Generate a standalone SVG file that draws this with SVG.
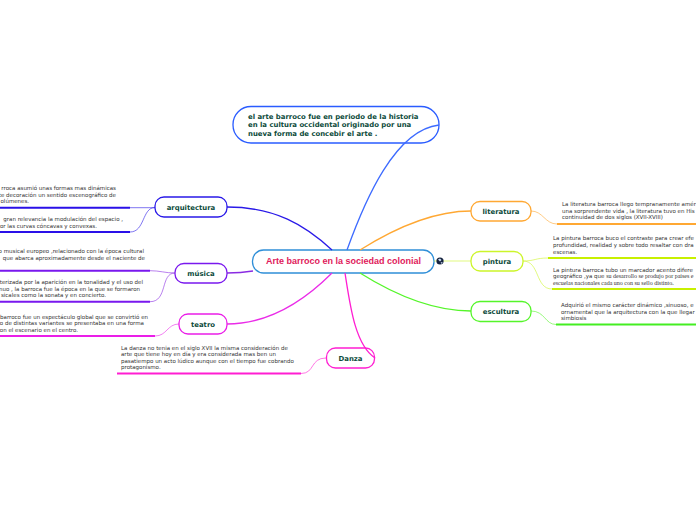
<svg xmlns="http://www.w3.org/2000/svg" width="696" height="520" viewBox="0 0 696 520">
<style>
.n{fill:#fff;stroke-width:1.3}
.c{fill:none;stroke-width:1.3}
.t{fill:none;stroke-width:.8;opacity:.75}
.u{fill:none;stroke-width:2}
.l{font:bold 6.9px "DejaVu Sans",sans-serif;fill:#0b4a3a;text-anchor:middle}
.d{font:5.5px "DejaVu Sans",sans-serif;fill:#333}
.e{text-anchor:end}
.m{font:bold 6.9px "DejaVu Sans",sans-serif;fill:#0b4a3a}
.s{font-family:"Liberation Serif",serif;font-size:6px}
</style>
<rect width="696" height="520" fill="#fff"/>
<g id="n-central"><rect class="n" x="252.500" y="250" width="181.500" height="23" rx="11" stroke="#2f8fd8"/><text x="343.500" y="264" text-anchor="middle" style="font:bold 9px 'Liberation Sans',sans-serif;fill:#e0195b">Arte barroco en la sociedad colonial</text></g>
<g id="n-top"><rect class="n" x="233" y="106.500" width="206" height="36.500" rx="18" stroke="#2a5cff"/><text class="m" x="248" y="119">el arte barroco fue en periodo de la historia</text><text class="m" x="248" y="127">en la cultura occidental originado por una</text><text class="m" x="248" y="136">nueva forma de concebir el arte .</text></g>
<g id="n-arquitectura"><rect class="n" x="155" y="197" width="72" height="20" rx="9" stroke="#2a1ae8"/><text class="l" x="191" y="210">arquitectura</text></g>
<g id="t-arq1"><text class="d e" x="116" y="190">rroca asumió unas formas mas dinámicas</text><text class="d e" x="116" y="197">te decoración un sentido escenográfico de</text><text class="d" x="0.500" y="203">olúmenes.</text></g>
<g id="t-arq2"><text class="d e" x="123" y="221">gran relevancia la modulación del espacio ,</text><text class="d e" x="97" y="228">or las curvas cóncavas y convexas.</text></g>
<g id="n-musica"><rect class="n" x="175" y="263.500" width="52" height="19.500" rx="9" stroke="#7a18ee"/><text class="l" x="201" y="276">música</text></g>
<g id="t-mus1"><text class="d e" x="144" y="253">o musical europeo ,relacionado con la época cultural</text><text class="d e" x="145" y="260">que abarca aproximadamente desde el naciente de</text></g>
<g id="t-mus2"><text class="d e" x="143" y="284">terizada por la aparición en la tonalidad y el uso del</text><text class="d e" x="140" y="291">nuo , la barroca fue la época en la que se formaron</text><text class="d e" x="106" y="297">sicales como la sonata y en concierto.</text></g>
<g id="n-teatro"><rect class="n" x="179" y="314" width="48" height="20" rx="9" stroke="#ea1ee8"/><text class="l" x="203" y="327">teatro</text></g>
<g id="t-tea"><text class="d e" x="148" y="319">barroco fue un espectáculo global que se convirtió en</text><text class="d e" x="144" y="325">o de distintas variantes se presentaba en una forma</text><text class="d e" x="78" y="332">on el escenario en el centro.</text></g>
<g id="n-danza"><rect class="n" x="326.500" y="348" width="48" height="20" rx="9" stroke="#ff1ed2"/><text class="l" x="350.500" y="361">Danza</text></g>
<g id="t-dan"><text class="d" x="121" y="350">La danza no tenia en el siglo XVII la misma consideración de</text><text class="d" x="121" y="356">arte que tiene hoy en día y era considerada mas ben un</text><text class="d" x="121" y="363">pasatiempo un acto lúdico aunque con el tiempo fue cobrando</text><text class="d" x="121" y="369">protagonismo.</text></g>
<g id="n-literatura"><rect class="n" x="471" y="201.500" width="60" height="19.500" rx="9" stroke="#ffa833"/><text class="l" x="501" y="214">literatura</text></g>
<g id="t-lit"><text class="d" x="562" y="206">La literatura barroca llego tempranamente amér</text><text class="d" x="562" y="213">una sorprendente vida , la literatura tuvo en His</text><text class="d" x="562" y="219">continuidad de dos siglos (XVII-XVIII)</text></g>
<g id="n-pintura"><rect class="n" x="471" y="251.500" width="52" height="19.500" rx="9" stroke="#ccf52a"/><text class="l" x="497" y="264">pintura</text></g>
<g id="t-pin1"><text class="d" x="553" y="240">La pintura barroca buco el contraste para crear efe</text><text class="d" x="553" y="247">profundidad, realidad y sobre todo resaltar con dra</text><text class="d" x="553" y="254">escenas.</text></g>
<g id="t-pin2"><text class="d" x="553" y="272">La pintura barroca tubo un marcador acento difere</text><text class="d" x="553" y="278">geográfico ,ya que <tspan class="s">su desarrollo se produjo por paises e</tspan></text><text class="d s" x="553" y="285">escuelas nacionales cada uno con su sello distinto.</text></g>
<g id="n-escultura"><rect class="n" x="471" y="301.500" width="60" height="20" rx="9" stroke="#55f52a"/><text class="l" x="501" y="314">escultura</text></g>
<g id="t-esc"><text class="d" x="561" y="307">Adquirió el mismo carácter dinámico ,sinuoso, e</text><text class="d" x="561" y="313.500">ornamental que la arquitectura con la que llegar</text><text class="d" x="561" y="320">simbiosis</text></g>
<g id="connectors">
<path class="c" stroke="#2a1ae8" d="M227 207C275 207 305 225 332 250"/>
<path class="c" stroke="#8a2be2" d="M227 273C240 273 247 272 253 271"/>
<path class="c" stroke="#ea2ce8" d="M227 324C270 324 305 300 332 273"/>
<path class="c" stroke="#ff1ed2" d="M345 273C350 305 355 345 375 358"/>
<path class="c" stroke="#3d6bff" d="M347 250C365 200 395 130 439 125"/>
<path class="c" stroke="#ffa833" d="M360 250C395 228 435 211 471 211"/>
<path class="t" stroke="#ccf52a" d="M434 261H471"/>
<path class="c" stroke="#55f52a" d="M360 273C395 295 435 311 471 311"/>
<path class="t" stroke="#2a1ae8" d="M130 207.700H155M130 232C145 232 142 207.500 155 207.500"/>
<path class="t" stroke="#8a2be2" d="M150 270.700C160 270.700 165 273 175 273M150 301.700C168 301.700 160 273 175 273"/>
<path class="t" stroke="#ea2ce8" d="M155 336C167 336 167 324 179 324"/>
<path class="t" stroke="#ff1ed2" d="M301 373.500C315 373.500 310 358 326 358"/>
<path class="t" stroke="#ffa833" d="M531 211C543 211 545 224 557 224"/>
<path class="t" stroke="#ccf52a" d="M523 261C535 261 535 258 548 258M523 261C540 261 535 289 552 289"/>
<path class="t" stroke="#55f52a" d="M531 311C545 311 545 324.500 556 324.500"/>
<path class="u" stroke="#2a10e8" d="M0 207.700H130M0 232H130"/>
<path class="u" stroke="#7a18ee" d="M0 270.700H150M0 301.700H150"/>
<path class="u" stroke="#ea1ee8" d="M0 336H155"/>
<path class="u" stroke="#ff1ed2" d="M117 373.500H301"/>
<path class="u" stroke="#ffa833" d="M557 224H696"/>
<path class="u" stroke="#c8f000" d="M548 258H696M552 289H696"/>
<path class="u" stroke="#44ee22" d="M556 324.500H696"/>
</g>
<g id="globe"><circle cx="440" cy="261" r="3.600" fill="#16233f"/><path d="M438 259.500l2-1 1.500 1.500-1.500 1.500zM440.500 262.500l2-.5-.5 2z" fill="#cfe0f5"/></g>
</svg>
